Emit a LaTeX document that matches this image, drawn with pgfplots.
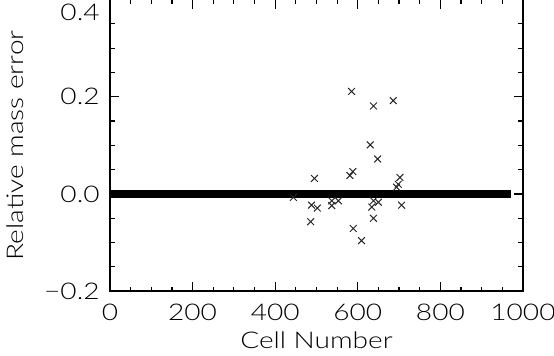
\documentclass[border=0pt]{standalone}
\usepackage{fontspec}
\setmainfont{Lato Light}[FakeStretch=1.22]
\usepackage{pgfplots}
\pgfplotsset{compat=1.18}
\begin{document}
\fontsize{11.5pt}{13pt}\selectfont
\begin{tikzpicture}
\begin{axis}[
  at={(0,0)}, anchor=south west,
  scale only axis,
  width=206.5pt, height=145.85pt,
  xmin=0, xmax=1000,
  ymin=-0.2, ymax=0.4,
  xtick={0,200,400,600,800,1000},
  xticklabels={0,200,400,600,800,1000},
  minor x tick num=3,
  ytick={-0.2,0,0.2,0.4},
  yticklabels={−0.2,0.0,0.2,},
  minor y tick num=3,
  extra y ticks={0.4},
  extra y tick labels={0.4},
  extra y tick style={yticklabel style={yshift=-6.4pt}},
  tick align=inside,
  major tick length=4.5pt,
  minor tick length=2.3pt,
  tick style={line width=0.6pt, black},
  axis line style={line width=0.8pt},
  xticklabel style={inner sep=0pt, yshift=-6pt},
  yticklabel style={inner sep=0pt, xshift=-5pt},
  xlabel={Cell Number},
  ylabel={Relative mass error},
  xlabel style={at={(axis description cs:0.5,-0.168)}, anchor=center},
  ylabel style={at={(axis description cs:-0.23,0.5)}, anchor=center},
  clip=true,
]
\addplot[black, line width=3.9pt, line cap=butt] coordinates {(0,0) (972,0)};
\addplot[only marks, mark=x, mark size=2.4pt, black!85, mark options={line width=0.5pt}] coordinates {
  (585,0.211) (638,0.181) (686,0.192) (630,0.101) (648,0.072)
  (495,0.032) (588,0.046) (581,0.038) (702,0.034) (698,0.020) (694,0.014)
  (444,-0.007) (488,-0.023) (502,-0.029) (537,-0.014) (553,-0.014) (537,-0.024)
  (638,-0.014) (650,-0.017) (634,-0.027) (706,-0.023)
  (486,-0.057) (638,-0.050) (589,-0.071) (609,-0.096)
};
\end{axis}
\pgfresetboundingbox
\path[use as bounding box] (-55pt,-32.15pt) rectangle (222pt,145.6pt);
\end{tikzpicture}
\end{document}
